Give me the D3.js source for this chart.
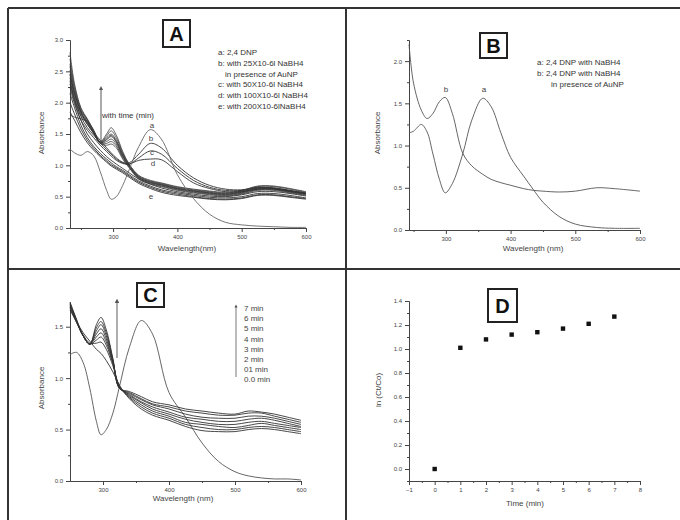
<!DOCTYPE html>
<html>
<head>
<meta charset="utf-8">
<script src="https://cdn.jsdelivr.net/npm/d3@7"></script>
<style>
  body { margin: 0; background: #fff; }
  text { font-family: "Liberation Sans", Arial, sans-serif; }
</style>
</head>
<body>
<svg id="fig" width="680" height="520"></svg>
<script>
// ---------- Panel A: UV-vis spectra, different NaBH4 amounts ----------
const wlA = [233, 240, 250, 260, 270, 280, 290, 297, 305, 315, 325, 340, 358, 375, 400, 425, 450, 475, 500, 525, 550, 575, 600];
const specA_a = [1.26, 1.20, 1.16, 1.22, 1.15, 0.90, 0.60, 0.46, 0.50, 0.68, 0.93, 1.30, 1.57, 1.42, 0.85, 0.47, 0.22, 0.09, 0.05, 0.03, 0.02, 0.01, 0.01];
const specA_b = [2.45, 2.15, 1.85, 1.65, 1.52, 1.40, 1.28, 1.20, 1.12, 1.05, 1.04, 1.18, 1.35, 1.28, 1.00, 0.80, 0.68, 0.62, 0.61, 0.65, 0.64, 0.60, 0.56];
const specA_c = [2.35, 2.05, 1.78, 1.60, 1.48, 1.36, 1.25, 1.18, 1.10, 1.04, 1.02, 1.12, 1.23, 1.18, 0.95, 0.76, 0.65, 0.60, 0.60, 0.64, 0.63, 0.59, 0.55];
const specA_d = [2.25, 1.98, 1.72, 1.56, 1.44, 1.32, 1.22, 1.15, 1.08, 1.03, 1.02, 1.08, 1.10, 1.09, 0.90, 0.72, 0.63, 0.58, 0.58, 0.62, 0.62, 0.58, 0.54];
const specA_t0 = [1.80, 1.77, 1.74, 1.70, 1.54, 1.36, 1.42, 1.48, 1.38, 1.15, 0.99, 0.81, 0.73, 0.69, 0.63, 0.59, 0.56, 0.54, 0.57, 0.63, 0.63, 0.59, 0.55];
const specA_t1 = [2.40, 2.06, 1.80, 1.66, 1.50, 1.35, 1.32, 1.34, 1.28, 1.10, 0.96, 0.78, 0.70, 0.66, 0.60, 0.56, 0.53, 0.51, 0.54, 0.60, 0.60, 0.56, 0.52];
const specA_t2 = [2.46, 2.10, 1.82, 1.68, 1.51, 1.35, 1.35, 1.38, 1.31, 1.12, 0.97, 0.79, 0.71, 0.67, 0.61, 0.57, 0.54, 0.52, 0.55, 0.61, 0.61, 0.57, 0.53];
const specA_t3 = [2.52, 2.14, 1.84, 1.69, 1.52, 1.36, 1.38, 1.42, 1.34, 1.14, 0.98, 0.80, 0.72, 0.68, 0.62, 0.58, 0.55, 0.53, 0.56, 0.62, 0.62, 0.58, 0.54];
const specA_t4 = [2.58, 2.18, 1.86, 1.70, 1.53, 1.36, 1.41, 1.46, 1.37, 1.16, 0.99, 0.81, 0.73, 0.69, 0.63, 0.59, 0.56, 0.54, 0.57, 0.63, 0.63, 0.59, 0.55];
const specA_t5 = [2.62, 2.22, 1.88, 1.72, 1.54, 1.37, 1.44, 1.50, 1.40, 1.18, 1.00, 0.82, 0.74, 0.70, 0.64, 0.60, 0.57, 0.55, 0.58, 0.64, 0.64, 0.60, 0.56];
const specA_t6 = [2.70, 2.26, 1.90, 1.73, 1.55, 1.37, 1.47, 1.55, 1.44, 1.20, 1.01, 0.83, 0.75, 0.71, 0.65, 0.61, 0.58, 0.56, 0.59, 0.66, 0.66, 0.62, 0.57];
const specA_t7 = [2.80, 2.30, 1.92, 1.74, 1.56, 1.38, 1.50, 1.60, 1.48, 1.22, 1.02, 0.84, 0.76, 0.72, 0.66, 0.62, 0.59, 0.57, 0.60, 0.67, 0.67, 0.63, 0.58];
const specA_e1 = [2.30, 2.02, 1.72, 1.50, 1.36, 1.24, 1.14, 1.08, 1.02, 0.95, 0.88, 0.78, 0.70, 0.64, 0.58, 0.54, 0.51, 0.50, 0.53, 0.58, 0.58, 0.55, 0.51];
const specA_e2 = [2.15, 1.92, 1.64, 1.44, 1.30, 1.19, 1.10, 1.04, 0.98, 0.92, 0.85, 0.75, 0.67, 0.61, 0.56, 0.52, 0.49, 0.48, 0.50, 0.55, 0.55, 0.52, 0.48];
const specA_e3 = [2.00, 1.82, 1.58, 1.40, 1.27, 1.16, 1.07, 1.01, 0.96, 0.90, 0.83, 0.73, 0.65, 0.59, 0.54, 0.50, 0.47, 0.46, 0.48, 0.53, 0.53, 0.50, 0.47];
const specA_e4 = [1.85, 1.72, 1.52, 1.36, 1.24, 1.14, 1.05, 0.99, 0.94, 0.88, 0.81, 0.71, 0.63, 0.57, 0.52, 0.49, 0.46, 0.45, 0.47, 0.52, 0.52, 0.49, 0.46];
const legendA = ["a: 2,4 DNP", "b: with 25X10-6l NaBH4", "in presence of AuNP", "c: with 50X10-6l NaBH4", "d: with 100X10-6l NaBH4", "e: with 200X10-6lNaBH4"];
const peakLabelsA = ["a", "b", "c", "d", "e"];

// ---------- Panel B: 2,4-DNP with NaBH4, with and without AuNP ----------
const wlB = [243, 250, 262, 271, 280, 290, 299, 310, 326, 340, 357, 370, 385, 400, 420, 435, 450, 475, 500, 533, 560, 600];
const specB_a = [1.15, 1.17, 1.25, 1.16, 0.90, 0.60, 0.44, 0.55, 0.90, 1.30, 1.56, 1.46, 1.15, 0.86, 0.64, 0.48, 0.33, 0.16, 0.07, 0.03, 0.02, 0.02];
const specB_b = [2.20, 1.74, 1.42, 1.32, 1.38, 1.52, 1.57, 1.38, 0.91, 0.76, 0.66, 0.60, 0.56, 0.53, 0.49, 0.47, 0.46, 0.45, 0.46, 0.50, 0.49, 0.46];
const legendB = ["a: 2,4 DNP with NaBH4", "b: 2,4 DNP with NaBH4", "in presence of AuNP"];

// ---------- Panel C: time-resolved spectra ----------
const wlC = [250, 260, 270, 280, 290, 297, 305, 315, 325, 340, 358, 375, 400, 425, 450, 475, 500, 520, 540, 560, 580, 600];
const specC_dnp = [1.23, 1.25, 1.15, 0.90, 0.58, 0.45, 0.50, 0.66, 0.92, 1.30, 1.56, 1.43, 0.86, 0.62, 0.37, 0.19, 0.09, 0.05, 0.03, 0.02, 0.02, 0.01];
const specC_0 = [1.66, 1.55, 1.44, 1.36, 1.28, 1.24, 1.17, 1.06, 0.93, 0.80, 0.70, 0.64, 0.59, 0.53, 0.49, 0.48, 0.48, 0.50, 0.51, 0.50, 0.48, 0.46];
const specC_1 = [1.68, 1.54, 1.42, 1.34, 1.34, 1.35, 1.28, 1.12, 0.92, 0.81, 0.72, 0.66, 0.61, 0.55, 0.52, 0.50, 0.50, 0.52, 0.53, 0.52, 0.50, 0.48];
const specC_2 = [1.69, 1.54, 1.41, 1.33, 1.37, 1.40, 1.32, 1.14, 0.92, 0.82, 0.74, 0.68, 0.63, 0.57, 0.55, 0.53, 0.52, 0.54, 0.56, 0.54, 0.52, 0.50];
const specC_3 = [1.70, 1.55, 1.41, 1.33, 1.40, 1.44, 1.35, 1.15, 0.91, 0.83, 0.76, 0.70, 0.65, 0.60, 0.57, 0.55, 0.55, 0.57, 0.58, 0.56, 0.54, 0.52];
const specC_4 = [1.71, 1.55, 1.41, 1.33, 1.43, 1.48, 1.38, 1.16, 0.91, 0.84, 0.77, 0.72, 0.67, 0.62, 0.60, 0.58, 0.58, 0.60, 0.61, 0.59, 0.56, 0.53];
const specC_5 = [1.72, 1.56, 1.41, 1.33, 1.46, 1.52, 1.41, 1.17, 0.90, 0.85, 0.79, 0.74, 0.70, 0.65, 0.62, 0.61, 0.61, 0.63, 0.63, 0.61, 0.58, 0.55];
const specC_6 = [1.73, 1.56, 1.41, 1.33, 1.49, 1.55, 1.44, 1.18, 0.90, 0.86, 0.80, 0.75, 0.72, 0.68, 0.66, 0.64, 0.64, 0.66, 0.66, 0.63, 0.60, 0.57];
const specC_7 = [1.74, 1.57, 1.41, 1.33, 1.52, 1.59, 1.47, 1.19, 0.90, 0.87, 0.82, 0.77, 0.74, 0.70, 0.68, 0.66, 0.65, 0.68, 0.67, 0.65, 0.62, 0.59];
const legendC = ["7 min", "6 min", "5 min", "4 min", "3 min", "2 min", "01 min", "0.0 min"];

// ---------- Panel D: kinetics ----------
const timeD = [0, 1, 2, 3, 4, 5, 6, 7];
const lnD = [0.00, 1.01, 1.08, 1.12, 1.14, 1.17, 1.21, 1.27];

const svg = d3.select("#fig");
const FONT = "'Liberation Sans', Arial, sans-serif";
const AXIS = "#444";

// arrow marker
svg.append("defs").append("marker")
  .attr("id", "arr").attr("viewBox", "0 0 10 10").attr("refX", 5).attr("refY", 5)
  .attr("markerWidth", 4).attr("markerHeight", 4).attr("orient", "auto")
  .append("path").attr("d", "M0,0 L10,5 L0,10 z").attr("fill", "#555");

// frame
const frame = svg.append("g").attr("stroke", "#333").attr("stroke-width", 2);
frame.append("line").attr("x1", 8).attr("x2", 680).attr("y1", 8).attr("y2", 8);
frame.append("line").attr("x1", 8).attr("x2", 8).attr("y1", 8).attr("y2", 520);
frame.append("line").attr("x1", 346).attr("x2", 346).attr("y1", 8).attr("y2", 520);
frame.append("line").attr("x1", 8).attr("x2", 680).attr("y1", 269).attr("y2", 269);

function axes(x, y, o) {
  const g = svg.append("g");
  const [y0] = y.range();
  const [x0] = x.range();
  const bx = g.append("g").attr("transform", `translate(0,${y0})`)
    .call(d3.axisBottom(x).tickValues(o.xMajor).tickSize(4).tickSizeOuter(0).tickFormat(o.xFmt));
  g.append("g").attr("transform", `translate(0,${y0})`)
    .call(d3.axisBottom(x).tickValues(o.xMinor).tickSize(2).tickSizeOuter(0).tickFormat(""));
  const by = g.append("g").attr("transform", `translate(${x0},0)`)
    .call(d3.axisLeft(y).tickValues(o.yMajor).tickSize(4).tickSizeOuter(0).tickFormat(o.yFmt));
  g.append("g").attr("transform", `translate(${x0},0)`)
    .call(d3.axisLeft(y).tickValues(o.yMinor).tickSize(2).tickSizeOuter(0).tickFormat(""));
  g.selectAll("path.domain").attr("stroke", AXIS).attr("stroke-width", 1);
  g.selectAll(".tick line").attr("stroke", AXIS);
  g.selectAll("text").attr("font-size", 6).attr("fill", "#444").attr("font-family", FONT);
  g.append("text").attr("transform", `translate(${o.ylab[0]},${o.ylab[1]}) rotate(-90)`)
    .attr("text-anchor", "middle").attr("font-size", 8).attr("fill", "#444").text(o.ylab[2]);
  g.append("text").attr("x", o.xlab[0]).attr("y", o.xlab[1])
    .attr("text-anchor", "middle").attr("font-size", 8).attr("fill", "#444").text(o.xlab[2]);
}

function letterBox(x, y, w, h, s) {
  svg.append("rect").attr("x", x).attr("y", y).attr("width", w).attr("height", h)
    .attr("fill", "#fff").attr("stroke", "#222").attr("stroke-width", 2);
  svg.append("text").attr("x", x + w / 2).attr("y", y + h / 2 + 7).attr("text-anchor", "middle")
    .attr("font-size", 20).attr("font-weight", "bold").attr("fill", "#111").text(s);
}

function spectrum(x, y, wl, vals, color, width) {
  const line = d3.line().x((d, i) => x(wl[i])).y(d => y(d)).curve(d3.curveCatmullRom.alpha(0.5));
  svg.append("path").attr("d", line(vals)).attr("fill", "none")
    .attr("stroke", color).attr("stroke-width", width);
}

const f1 = d3.format(".1f");

// ===== Panel A =====
const xA = d3.scaleLinear().domain([233, 600]).range([70, 306]);
const yA = d3.scaleLinear().domain([0, 3.0]).range([228, 40]);
axes(xA, yA, {
  xMajor: [300, 400, 500, 600], xMinor: [250, 350, 450, 550], xFmt: d3.format("d"),
  yMajor: d3.range(0, 3.01, 0.5), yMinor: d3.range(0.25, 3, 0.5), yFmt: f1,
  ylab: [44, 133, "Absorbance"], xlab: [187, 251, "Wavelength(nm)"]
});
[specA_e4, specA_e3, specA_e2, specA_e1].forEach(s => spectrum(xA, yA, wlA, s, "#333", 0.9));
[specA_t0, specA_t1, specA_t2, specA_t3, specA_t4, specA_t5, specA_t6, specA_t7].forEach(s => spectrum(xA, yA, wlA, s, "#3a3a3a", 0.8));
[specA_d, specA_c, specA_b].forEach(s => spectrum(xA, yA, wlA, s, "#333", 0.9));
spectrum(xA, yA, wlA, specA_a, "#666", 0.9);
svg.append("line").attr("x1", 101).attr("x2", 101).attr("y1", 143).attr("y2", 88)
  .attr("stroke", "#555").attr("stroke-width", 1).attr("marker-end", "url(#arr)");
svg.append("text").attr("x", 102).attr("y", 118).attr("font-size", 8).attr("fill", "#333").text("with time (min)");
const peakPosA = [[152, 128], [151, 141], [152, 155], [153, 166], [151, 199]];
peakLabelsA.forEach((t, i) => svg.append("text").attr("x", peakPosA[i][0]).attr("y", peakPosA[i][1])
  .attr("text-anchor", "middle").attr("font-size", 8).attr("fill", "#444").text(t));
legendA.forEach((t, i) => svg.append("text").attr("x", i === 2 ? 225 : 218).attr("y", 55 + i * 10.8)
  .attr("font-size", 8).attr("fill", "#333").text(t));
letterBox(163, 20, 27, 27, "A");

// ===== Panel B =====
const xB = d3.scaleLinear().domain([243, 600]).range([409, 640]);
const yB = d3.scaleLinear().domain([0, 2.25]).range([230, 40]);
axes(xB, yB, {
  xMajor: [300, 400, 500, 600], xMinor: [250, 350, 450, 550], xFmt: d3.format("d"),
  yMajor: d3.range(0, 2.01, 0.5), yMinor: d3.range(0.25, 2.26, 0.5), yFmt: f1,
  ylab: [380, 133, "Absorbance"], xlab: [533, 251, "Wavelength (nm)"]
});
spectrum(xB, yB, wlB, specB_a, "#555", 0.9);
spectrum(xB, yB, wlB, specB_b, "#555", 0.9);
svg.append("text").attr("x", 446).attr("y", 92).attr("text-anchor", "middle").attr("font-size", 8).attr("fill", "#444").text("b");
svg.append("text").attr("x", 484).attr("y", 92).attr("text-anchor", "middle").attr("font-size", 8).attr("fill", "#444").text("a");
legendB.forEach((t, i) => svg.append("text").attr("x", i === 2 ? 551 : 537).attr("y", 65 + i * 10.8)
  .attr("font-size", 8).attr("fill", "#333").text(t));
letterBox(480, 33, 27, 25, "B");

// ===== Panel C =====
const xC = d3.scaleLinear().domain([250, 600]).range([70, 301]);
const yC = d3.scaleLinear().domain([0, 1.74]).range([481, 302]);
axes(xC, yC, {
  xMajor: [300, 400, 500, 600], xMinor: [350, 450, 550], xFmt: d3.format("d"),
  yMajor: [0, 0.5, 1.0, 1.5], yMinor: [0.25, 0.75, 1.25], yFmt: f1,
  ylab: [44, 388, "Absorbance"], xlab: [183, 501, "Wavelength (nm)"]
});
spectrum(xC, yC, wlC, specC_dnp, "#555", 0.9);
[specC_0, specC_1, specC_2, specC_3, specC_4, specC_5, specC_6, specC_7].forEach(s => spectrum(xC, yC, wlC, s, "#333", 0.9));
svg.append("line").attr("x1", 117).attr("x2", 117).attr("y1", 358).attr("y2", 301)
  .attr("stroke", "#777").attr("stroke-width", 1.2).attr("marker-end", "url(#arr)");
svg.append("line").attr("x1", 236).attr("x2", 236).attr("y1", 377).attr("y2", 306)
  .attr("stroke", "#555").attr("stroke-width", 0.8).attr("marker-end", "url(#arr)");
legendC.forEach((t, i) => svg.append("text").attr("x", 244).attr("y", 311 + i * 10.2)
  .attr("font-size", 8).attr("fill", "#444").text(t));
letterBox(137, 283, 27, 24, "C");

// ===== Panel D =====
const xD = d3.scaleLinear().domain([-1, 8]).range([409, 640]);
const yD = d3.scaleLinear().domain([-0.1, 1.4]).range([481, 301]);
axes(xD, yD, {
  xMajor: d3.range(-1, 8.01, 1), xMinor: d3.range(-0.5, 8, 1), xFmt: d3.format("d"),
  yMajor: d3.range(0, 1.41, 0.2), yMinor: d3.range(-0.1, 1.4, 0.2), yFmt: f1,
  ylab: [381, 390, "ln (Ct/Co)"], xlab: [525, 506, "Time (min)"]
});
svg.append("g").selectAll("rect").data(timeD).join("rect")
  .attr("x", (d) => xD(d) - 2.2).attr("y", (d, i) => yD(lnD[i]) - 2.2)
  .attr("width", 4.4).attr("height", 4.4).attr("fill", "#111");
letterBox(488, 289, 29, 33, "D");
</script>
</body>
</html>
